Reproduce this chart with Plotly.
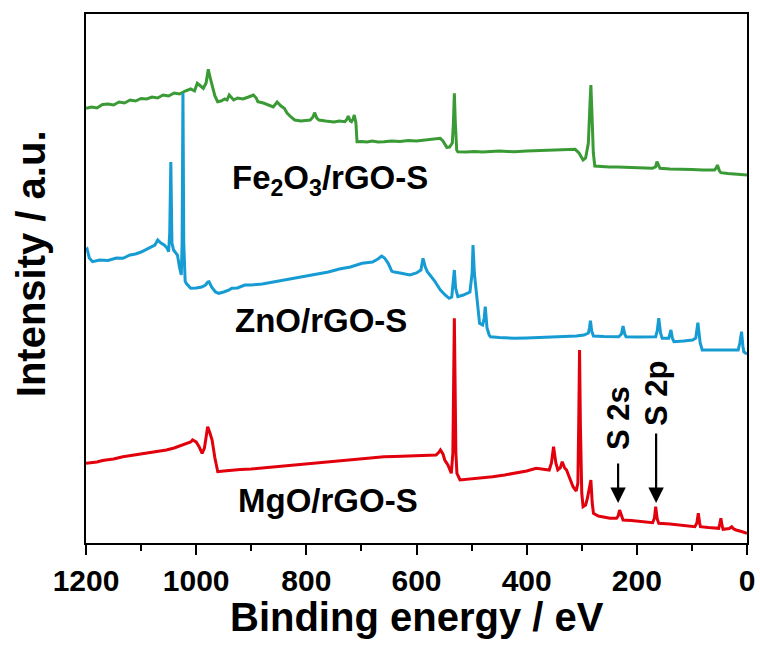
import plotly.graph_objects as go

# ---------------- data (binding energy in eV, intensity in arbitrary units) -------------
fe_energy = [1200, 1190, 1180, 1170, 1160, 1150, 1140, 1130, 1120, 1110, 1100, 1090, 1080, 1070,
             1060, 1050, 1040, 1030, 1020, 1010, 1003, 998, 992, 987, 982, 978, 975, 971, 966, 961,
             955, 948, 944, 940, 936, 932, 925, 915, 905, 896, 891, 888, 878, 868, 860, 853, 846,
             840, 835, 828, 821, 810, 800, 793, 788, 785, 781, 777, 765, 750, 740, 730, 726, 724,
             720, 718, 715, 713, 710, 708, 700, 690, 680, 670, 659, 645, 630, 615, 600, 585, 570,
             560, 557, 552, 547, 545, 540, 535, 533, 531.3, 529.5, 527, 525, 510, 495, 480, 465,
             450, 435, 422, 400, 380, 360, 340, 320, 312, 305, 300, 297.6, 293, 288, 285, 283.4,
             281.5, 279, 276.3, 265, 250, 235, 220, 200, 185, 172, 166, 163.4, 160, 158, 140, 120,
             100, 80, 65, 59, 56, 53.7, 50, 47.4, 35, 20, 10, 0]
fe_intensity = [434.7, 436, 435, 438.5, 439, 438, 441, 440, 443, 442, 444.5, 444, 446, 445,
                448, 447, 450, 449, 452, 454, 452, 459.7, 457, 454.7, 460, 473.7, 466, 456.3, 447, 441.3,
                442, 444, 443, 448, 446, 443, 445, 444, 446, 448, 445, 441.3, 440, 438, 436, 441, 437,
                434.7, 430, 426, 423, 422, 423, 423, 426, 430.3, 425, 423, 422, 421, 422, 421.3, 424, 427,
                422, 421.3, 424, 428, 420, 401.3, 401.5, 401, 402, 401, 401.3, 402, 401.5, 402.5, 402, 403, 403.5,
                404, 404.7, 402, 398, 395.7, 396, 400, 420, 449.7, 420, 393, 391.3, 391, 391.5, 391, 391.5,
                392, 391.5, 391.3, 392, 392.5, 393, 393.5, 394, 393.7, 390, 386, 383, 385, 400, 440, 458,
                430, 390, 377, 376.5, 376, 376, 375.5, 375, 375, 374.7, 376, 381.3, 376, 374.7, 374, 374,
                373.5, 373, 373, 373, 375, 378, 372, 370.3, 369.5, 369, 368.5, 368]

zn_energy = [1200, 1198, 1194, 1188, 1175, 1160, 1145, 1133, 1120, 1110, 1100, 1093, 1085, 1075,
             1069.7, 1064, 1058, 1053, 1050, 1048, 1046, 1044, 1041, 1036, 1034, 1030, 1027, 1025.5,
             1024, 1022.5, 1020, 1018, 1010, 1000, 990, 983, 979, 976.6, 972, 965, 959, 950, 940,
             935.5, 925, 911.8, 900, 880, 856.6, 840, 820, 800, 777.6, 760, 740, 720, 698.7, 680, 670,
             663.2, 658, 651.4, 645, 643.5, 630, 611.9, 600, 592, 588.2, 584, 580.3, 572.4, 567, 564.5,
             556.6, 548, 540.8, 536, 533, 531.3, 529, 525, 515, 509.3, 503, 499, 497.4, 495, 491.8,
             488, 485.5, 480, 477, 475.2, 472, 468, 465.8, 450, 422.4, 400, 370, 340, 310, 296, 288,
             286, 284.2, 282, 278.7, 260, 240, 232.9, 228, 225, 222, 219.6, 200, 180, 165.8, 163,
             160.2, 157, 154, 142.1, 140, 138.1, 135.5, 132.6, 115, 98.7, 93, 89.2, 85, 81.3, 60, 40,
             16, 13, 9.9, 7.5, 5.9, 3, 0]
zn_intensity = [293, 294, 285, 281.3, 283, 282.5, 285, 284.7, 288, 289, 291, 293, 295, 298,
                303, 300, 298, 295, 291.3, 310, 381, 300, 293, 289, 288, 275, 268, 300,
                450, 300, 262, 259.7, 254.7, 255, 256, 258, 261, 261.3, 256, 251, 249.7, 251, 253,
                254.7, 255, 258, 258, 259, 261.3, 263, 265, 267, 269.7, 271, 274, 276, 279.7, 281, 284,
                287, 285, 279.7, 272, 271.3, 270, 268, 270, 273, 284.7, 276, 271.3, 266.3, 262, 259.7,
                253, 248, 244.7, 246, 260, 273, 255, 246.3, 248, 249.7, 251, 270, 298, 270, 253,
                235, 219.7, 218, 225, 236.3, 215, 208, 206.3, 205.5, 204.7, 205, 205.5, 206, 207, 208, 210,
                215, 222.3, 212, 207, 206.5, 206.5, 206.3, 209, 217, 209, 206.3, 206, 206, 206.3, 212,
                224.7, 210, 204.7, 204.7, 208, 213, 205, 201.3, 202, 203, 205, 220.3, 200, 193, 193, 193,
                193, 200, 211.3, 197, 191.3, 190, 189]

mg_energy = [1200, 1190, 1180, 1170, 1160, 1150, 1133, 1120, 1110, 1100, 1090, 1080, 1070, 1054,
             1040, 1030, 1020, 1010, 1006.6, 1000, 994.7, 989.2, 985, 979.1, 975, 971.1, 966, 962,
             960.8, 950, 935.5, 920, 900, 880, 860, 840, 817.1, 800, 780, 760, 740, 720, 700, 680,
             659.2, 640, 620, 600, 580, 564.5, 559, 556.6, 552, 548.7, 543, 536.8, 534, 531.3, 528.5,
             526.6, 521, 510, 500, 490, 480, 461.8, 440, 420, 400, 382.8, 370, 359.1, 355, 351.2, 347,
             343.4, 339, 335.5, 331, 327.6, 322, 318, 315.8, 310, 307, 305.5, 304, 302.5, 300, 297.6,
             293, 290, 288.2, 286, 283.4, 281, 278.7, 270, 260, 248.7, 236.9, 234, 231.3, 228, 225,
             210, 200, 185.5, 171.3, 168, 165.8, 163, 160.2, 140, 120, 100, 94.7, 91, 88.4, 86, 84.5,
             70, 55, 51.3, 49.5, 47.4, 45.5, 43.4, 32, 27.7, 24, 19.8, 10, 0]
mg_intensity = [79.7, 80, 81, 82.5, 83, 84, 86.3, 87.5, 88, 89, 90, 90.5, 91.5, 93,
                95, 97, 99, 101, 103, 101, 96.3, 89.7, 95, 116.3, 110, 103, 85, 74,
                71.3, 72, 73, 73.5, 74, 75, 76, 77, 78, 79, 80, 81, 82, 83, 84, 85,
                86.3, 86.5, 87, 87.5, 88, 88, 91, 93, 89, 83, 78, 69.7, 90, 224.7, 90,
                69.7, 63, 63.5, 64, 64.5, 65, 66.3, 68, 70, 72, 74.7, 74, 73, 80, 96.3, 80,
                73, 75, 81.3, 75, 73, 65, 58, 56.3, 52, 60, 120, 193, 120, 50, 36.3,
                38, 44, 49.7, 55, 63, 40, 29.7, 27, 26, 24.7, 24.7, 27, 33, 27, 23,
                22.5, 22, 21.3, 20.3, 25, 36.3, 24, 19.7, 19, 18, 17, 16.3, 20, 29.7, 20, 16.3,
                15.5, 15, 14.7, 19, 24.7, 18, 13.7, 14.5, 16.3, 14, 13, 11.5, 9.7]

x_ticks = [1200, 1000, 800, 600, 400, 200, 0]
series_labels = ["Fe<sub>2</sub>O<sub>3</sub>/rGO-S", "ZnO/rGO-S", "MgO/rGO-S"]
x_title = "Binding energy / eV"
y_title = "Intensity / a.u."

GREEN = "#3a9b36"
BLUE = "#169bd3"
RED = "#e2000d"
FONT = "Arial, Liberation Sans, sans-serif"

fig = go.Figure()
for xs, ys, col in [(fe_energy, fe_intensity, GREEN), (zn_energy, zn_intensity, BLUE),
                    (mg_energy, mg_intensity, RED)]:
    fig.add_trace(go.Scatter(x=xs, y=ys, mode="lines",
                             line=dict(color=col, width=3), showlegend=False,
                             hoverinfo="skip"))

# sample labels
for lbl, (xe, yv) in zip(series_labels, [(757, 363), (773, 223), (761, 43)]):
    fig.add_annotation(x=xe, y=yv, text=lbl, showarrow=False,
                       font=dict(family=FONT, size=33, color="black", weight="bold"),
                       xanchor="center", yanchor="middle")

# S 2s / S 2p arrows
for xe, ay in [(234, -41), (165, -71)]:
    fig.add_annotation(x=xe, y=40, ax=0, ay=ay, text="", showarrow=True,
                       arrowhead=2, arrowsize=1.4, arrowwidth=2.2, arrowcolor="black",
                       axref="pixel", ayref="pixel")

for txt, xe, yv in [("S 2s", 234, 125), ("S 2p", 165, 149)]:
    fig.add_annotation(x=xe, y=yv, text=txt, showarrow=False, textangle=-90,
                       font=dict(family=FONT, size=31, color="black", weight="bold"),
                       xanchor="center", yanchor="middle")

# axis titles
fig.add_annotation(x=0.5, y=-0.139, xref="paper", yref="paper", text=x_title,
                   showarrow=False, xanchor="center", yanchor="middle",
                   font=dict(family=FONT, size=40, color="black", weight="bold"))
fig.add_annotation(x=-0.0832, y=0.527, xref="paper", yref="paper", text=y_title,
                   showarrow=False, xanchor="center", yanchor="middle", textangle=-90,
                   font=dict(family=FONT, size=40, color="black", weight="bold"))

fig.update_layout(
    width=760, height=646,
    margin=dict(l=86, r=13, t=14, b=103, autoexpand=False),
    plot_bgcolor="white", paper_bgcolor="white",
    xaxis=dict(range=[1200, 0], tickvals=x_ticks, ticktext=[str(v) for v in x_ticks],
               automargin=False,
               ticks="outside", ticklen=10, tickwidth=2, tickcolor="black",
               minor=dict(dtick=100, ticks="outside", ticklen=6, tickwidth=2, tickcolor="black"),
               showline=True, linewidth=2.2, linecolor="black", mirror=True,
               showgrid=False, zeroline=False,
               tickfont=dict(family=FONT, size=30, color="black", weight="bold")),
    yaxis=dict(range=[0, 529], showticklabels=False, ticks="", automargin=False,
               showline=True, linewidth=2.2, linecolor="black", mirror=True,
               showgrid=False, zeroline=False),
)

fig.write_html("out.html")
